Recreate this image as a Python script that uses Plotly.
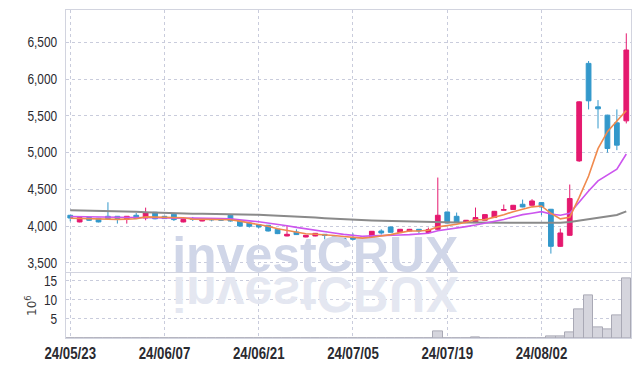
import plotly.graph_objects as go

dates = ["24/05/23","24/05/24","24/05/27","24/05/28","24/05/29","24/05/30","24/05/31","24/06/03","24/06/04","24/06/05",
         "24/06/07","24/06/10","24/06/11","24/06/12","24/06/13","24/06/14","24/06/17","24/06/18","24/06/19","24/06/20",
         "24/06/21","24/06/24","24/06/25","24/06/26","24/06/27","24/06/28","24/07/01","24/07/02","24/07/03","24/07/04",
         "24/07/05","24/07/08","24/07/09","24/07/10","24/07/11","24/07/12","24/07/15","24/07/16","24/07/17","24/07/18",
         "24/07/19","24/07/22","24/07/23","24/07/24","24/07/25","24/07/26","24/07/29","24/07/30","24/07/31","24/08/01",
         "24/08/02","24/08/05","24/08/06","24/08/07","24/08/08","24/08/09","24/08/12","24/08/13","24/08/14","24/08/16"]

opens = [4146,4055,4115,4105,4132,4132,4091,4146,4109,4187,
         4132,4160,4055,4101,4068,4098,4098,4146,4068,4041,
         4019,4010,3955,3864,3918,3850,3864,3887,3850,3832,
         3842,3805,3819,3932,3987,3910,3932,3955,3910,3955,
         4191,4132,4046,4046,4078,4115,4214,4224,4296,4282,
         4319,4228,3723,3873,4887,6215,5623,5510,5405,5432]
highs = [4150,4115,4120,4110,4323,4135,4135,4177,4250,4190,
         4135,4165,4095,4123,4105,4105,4100,4150,4070,4045,
         4020,4012,3960,4010,3955,3876,3905,3890,3855,3835,
         3900,3855,3932,3955,3990,3960,3960,3958,3978,4660,
         4195,4183,4082,4251,4160,4205,4292,4287,4360,4365,
         4325,4232,3965,4565,5700,6247,5715,5515,5588,6624]
lows = [4064,4050,4070,4050,4090,4033,4033,4095,4078,4091,
        4095,4068,4050,4068,4065,4064,4070,4060,3986,3978,
        3969,3925,3890,3860,3878,3846,3860,3818,3823,3800,
        3805,3796,3815,3883,3910,3905,3928,3896,3905,3950,
        4035,4040,4040,4040,4074,4110,4210,4219,4255,4278,
        4146,3624,3715,3868,4873,5588,5329,5000,5033,5397]
closes = [4109,4115,4078,4055,4101,4101,4132,4101,4183,4098,
          4101,4087,4091,4091,4101,4085,4078,4068,4000,3996,
          3986,3932,3896,3887,3883,3873,3900,3873,3828,3805,
          3819,3850,3928,3905,3914,3955,3955,3932,3951,4146,
          4041,4046,4078,4115,4155,4200,4224,4282,4259,4341,
          4259,3723,3905,4374,5691,5705,5596,5056,5101,6397]

ma5 = [4105,4100,4095,4092,4092,4090,4093,4098,4124,4123,
       4123,4114,4112,4094,4094,4091,4089,4085,4066,4045,
       4026,3996,3962,3939,3917,3894,3888,3883,3871,3856,
       3845,3835,3846,3861,3883,3910,3931,3932,3941,3988,
       4005,4023,4052,4085,4087,4119,4154,4195,4224,4261,
       4273,4173,4097,4120,4390,4680,5054,5284,5430,5571]
ma10 = [4130,4128,4125,4122,4119,4116,4113,4110,4108,4107,
        4107,4104,4105,4109,4109,4107,4102,4098,4080,4070,
        4058,4043,4023,4003,3981,3960,3942,3923,3905,3886,
        3870,3861,3865,3866,3870,3878,3883,3889,3901,3936,
        3958,3977,3992,4013,4037,4062,4089,4124,4155,4174,
        4196,4164,4146,4172,4326,4476,4614,4691,4775,4981]
ma_long = [4214,4212,4210,4208,4205,4202,4198,4194,4188,4182,
           4177,4174,4171,4168,4166,4165,4163,4160,4157,4155,
           4152,4148,4143,4137,4131,4124,4115,4106,4098,4091,
           4085,4080,4075,4071,4067,4064,4061,4058,4055,4053,
           4051,4049,4047,4046,4045,4044,4044,4044,4044,4045,
           4045,4045,4044,4055,4075,4092,4110,4128,4150,4200]

volume_m = [0, 0, 0, 0, 0, 0, 0, 0, 0, 0,
            0, 0, 0, 0, 0, 0, 0, 0, 0, 0,
            0, 0, 0, 0, 0, 0, 0, 0, 0, 0,
            0, 0, 0, 0, 0, 0, 0, 0, 0, 1.8,
            0, 0, 0, 0.25, 0, 0, 0, 0, 0, 0,
            0, 0.3, 0.3, 1.6, 7.5, 11.2, 2.8, 2.3, 6.0, 15.5]

tick_idx = [0, 10, 20, 30, 40, 50]
tick_vals = [dates[i] for i in tick_idx]

UP = "#E5196F"
DOWN = "#3398CB"
GRID = "#C9CCDC"
FRAME = "#D2D4DF"
LBL = "Liberation Sans, Arial, sans-serif"

fig = go.Figure()

# watermark (behind data) and its mirrored reflection
fig.add_trace(go.Scatter(x=[dates[26]], y=[3548], mode="text", text=["investCRUX"],
                         textposition="middle center",
                         textfont=dict(family="Liberation Sans, Arial, sans-serif", size=50,
                                       color="rgb(208,214,232)", weight="bold"),
                         hoverinfo="skip", showlegend=False, xaxis="x", yaxis="y"))
fig.add_trace(go.Scatter(x=[dates[26]], y=[10.4], mode="text", text=["investCRUX"],
                         textposition="middle center",
                         textfont=dict(family="Liberation Sans, Arial, sans-serif", size=50,
                                       color="rgb(228,231,241)", weight="bold"),
                         hoverinfo="skip", showlegend=False, xaxis="x2", yaxis="y2"))

fig.add_trace(go.Candlestick(x=dates, open=opens, high=highs, low=lows, close=closes,
                             increasing=dict(line=dict(color=UP, width=1), fillcolor=UP),
                             decreasing=dict(line=dict(color=DOWN, width=1), fillcolor=DOWN),
                             whiskerwidth=0, showlegend=False, xaxis="x", yaxis="y"))

fig.add_trace(go.Scatter(x=dates, y=ma_long, mode="lines", line=dict(color="#8A8A8A", width=2),
                         showlegend=False, xaxis="x", yaxis="y"))
fig.add_trace(go.Scatter(x=dates, y=ma10, mode="lines", line=dict(color="#CC55EE", width=1.6),
                         showlegend=False, xaxis="x", yaxis="y"))
fig.add_trace(go.Scatter(x=dates, y=ma5, mode="lines", line=dict(color="#F08A4E", width=1.6),
                         showlegend=False, xaxis="x", yaxis="y"))

fig.add_trace(go.Bar(x=dates, y=volume_m, marker=dict(color="#D5D5DD", line=dict(color="#A9A9B5", width=1)),
                     showlegend=False, xaxis="x2", yaxis="y2"))

axis_common = dict(showline=True, linecolor=FRAME, linewidth=1, mirror=True,
                   showgrid=True, gridcolor=GRID, griddash="dot", gridwidth=1,
                   zeroline=False, ticks="", automargin=False)

fig.update_layout(
    width=639, height=366,
    margin=dict(l=66, r=8, t=10, b=28),
    paper_bgcolor="white", plot_bgcolor="white",
    showlegend=False, bargap=0, boxgap=0.28,
    xaxis=dict(type="category", categoryorder="array", categoryarray=dates,
               anchor="y", range=[-0.45, 59.5], tickvals=tick_vals,
               showticklabels=False, rangeslider=dict(visible=False), **axis_common),
    xaxis2=dict(type="category", categoryorder="array", categoryarray=dates,
                anchor="y2", matches="x", range=[-0.45, 59.5], tickvals=tick_vals,
                ticktext=tick_vals, showticklabels=True,
                tickfont=dict(family=LBL, size=17, color="#2A2A30", weight="bold"), **axis_common),
    yaxis=dict(domain=[0.2, 1.0], range=[3368, 6942], tickvals=[3500, 4000, 4500, 5000, 5500, 6000, 6500],
               tickformat=",d", tickfont=dict(family=LBL, size=14, color="#2A2A30"),
               ticklabelstandoff=5, **axis_common),
    yaxis2=dict(domain=[0.0, 0.197], range=[0, 16.9], tickvals=[5, 10, 15],
                tickfont=dict(family=LBL, size=14, color="#2A2A30"), ticklabelstandoff=5,
                title=dict(text="10<sup>6</sup>", font=dict(family="DejaVu Sans, sans-serif", size=12, color="#444"),
                           standoff=2),
                **axis_common),
)

post = """
document.body.style.margin = '0';
document.body.style.padding = '0';
var gd = document.getElementById('{plot_id}');
function tweak(){
  gd.querySelectorAll('.textpoint text').forEach(function(t){
    if (t.textContent === 'investCRUX' && (t.style.fill || '').indexOf('228') >= 0) {
      t.style.transformBox = 'fill-box';
      t.style.transformOrigin = 'center';
      t.style.transform = 'scale(1,-1)';
    }
  });
  var sq = function(sel, f){
    gd.querySelectorAll(sel).forEach(function(t){
      if (!t.getAttribute('data-sq')) {
        var L = t.getComputedTextLength();
        t.setAttribute('textLength', (L*f).toFixed(1));
        t.setAttribute('lengthAdjust', 'spacingAndGlyphs');
        t.setAttribute('data-sq', '1');
      }
    });
  };
  sq('.x2tick text', 0.78);
  sq('.ytick text', 0.85);
  sq('.y2tick text', 0.85);
}
tweak();
if (gd.on) { gd.on('plotly_afterplot', tweak); }
"""

fig.write_html("out.html", post_script=post, config={"displayModeBar": False})
